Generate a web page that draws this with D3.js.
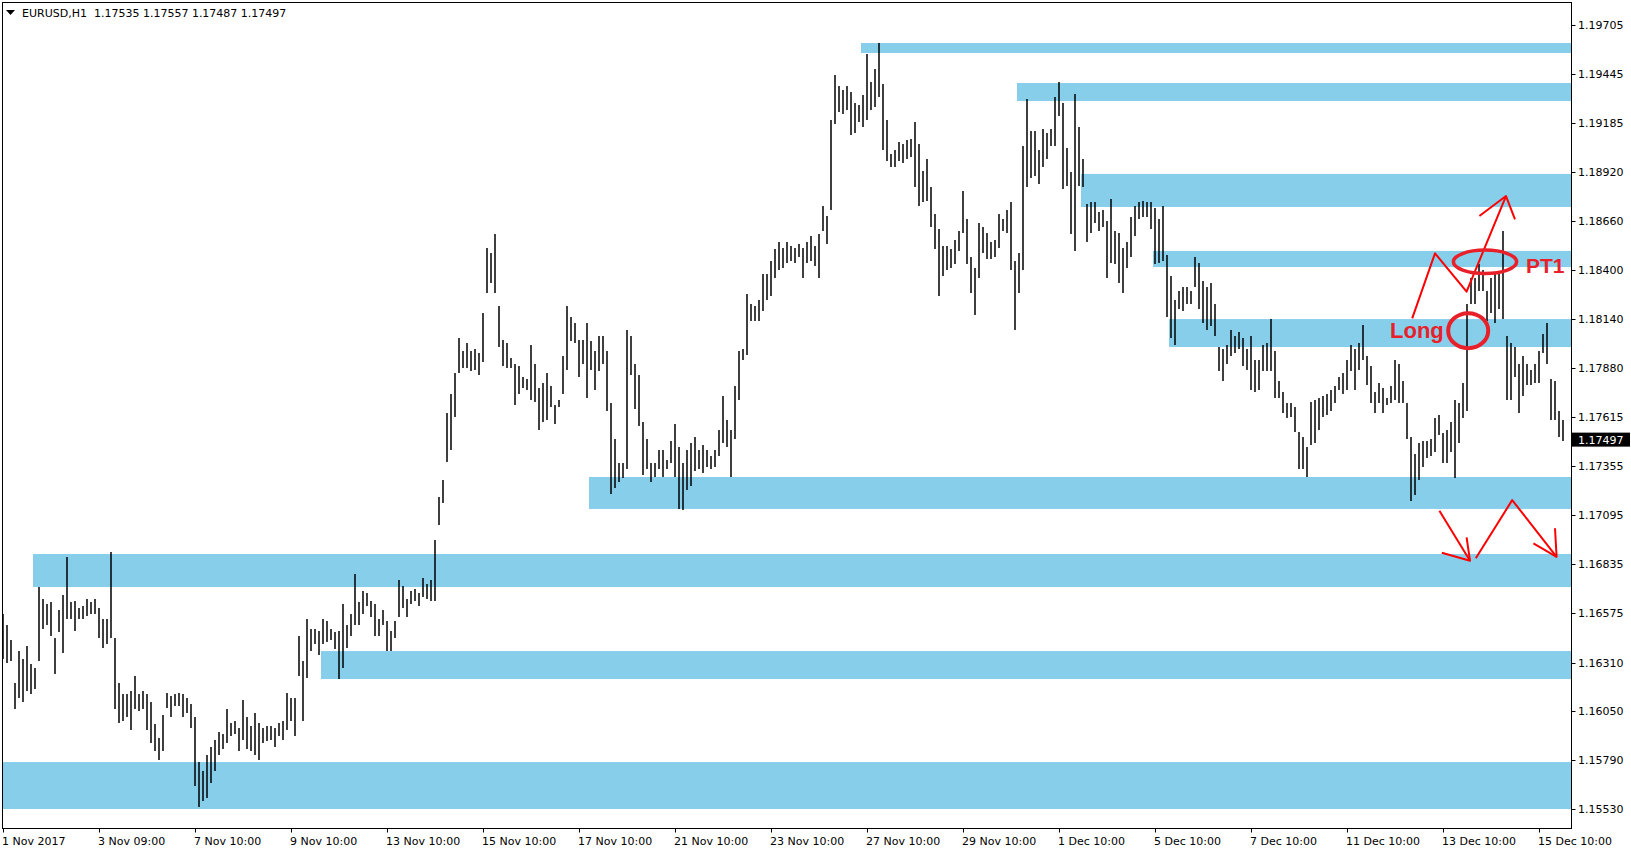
<!DOCTYPE html>
<html lang="en">
<head>
<meta charset="UTF-8">
<title>EURUSD,H1</title>
<script src="https://d3js.org/d3.v7.min.js"></script>
<style>
  body { margin: 0; background: #fff; }
  svg text { font-family: "DejaVu Sans", Verdana, sans-serif; }
  svg text.note { font-family: "Liberation Sans", Arial, sans-serif; font-weight: bold; }
</style>
</head>
<body>
<svg id="chart" width="1631" height="852"></svg>
<script>
// bar highs / lows (one bar per 2 hours, 1 Nov - 15 Dec 2017)
var highs = [
1.1657,1.1651,1.1643,1.1620,1.1637,1.1633,1.1640,1.1630,1.1628,1.1671,
1.1665,1.1662,1.1663,1.1644,1.1659,1.1667,1.1687,1.1663,1.1664,1.1660,
1.1661,1.1665,1.1663,1.1665,1.1660,1.1654,1.1654,1.1690,1.1644,1.1620,
1.1614,1.1614,1.1616,1.1624,1.1614,1.1616,1.1614,1.1610,1.1598,1.1591,
1.1603,1.1615,1.1613,1.1614,1.1615,1.1614,1.1612,1.1609,1.1602,1.1578,
1.1573,1.1582,1.1586,1.1590,1.1594,1.1593,1.1606,1.1599,1.1600,1.1596,
1.1611,1.1602,1.1597,1.1604,1.1599,1.1596,1.1597,1.1597,1.1596,1.1599,
1.1600,1.1615,1.1612,1.1612,1.1645,1.1632,1.1654,1.1649,1.1649,1.1648,
1.1654,1.1653,1.1649,1.1647,1.1648,1.1662,1.1651,1.1657,1.1678,1.1663,
1.1669,1.1668,1.1664,1.1662,1.1654,1.1659,1.1653,1.1648,1.1653,1.1675,
1.1672,1.1665,1.1669,1.1670,1.1668,1.1676,1.1673,1.1675,1.1696,1.1719,
1.1728,1.1764,1.1774,1.1785,1.1804,1.1797,1.1801,1.1797,1.1798,1.1796,
1.1817,1.1852,1.1849,1.1859,1.1821,1.1803,1.1801,1.1793,1.1790,1.1789,
1.1783,1.1782,1.1800,1.1790,1.1777,1.1780,1.1785,1.1778,1.1768,1.1771,
1.1794,1.1821,1.1815,1.1812,1.1803,1.1803,1.1812,1.1802,1.1797,1.1805,
1.1805,1.1797,1.1769,1.1750,1.1737,1.1737,1.1808,1.1805,1.1790,1.1784,
1.1759,1.1750,1.1737,1.1737,1.1744,1.1744,1.1739,1.1749,1.1758,1.1746,
1.1737,1.1744,1.1748,1.1751,1.1744,1.1747,1.1744,1.1741,1.1744,1.1755,
1.1773,1.1760,1.1755,1.1778,1.1797,1.1798,1.1827,1.1822,1.1821,1.1824,
1.1838,1.1838,1.1845,1.1851,1.1855,1.1852,1.1855,1.1853,1.1852,1.1854,
1.1852,1.1855,1.1858,1.1853,1.1859,1.1874,1.1869,1.1920,1.1944,1.1938,
1.1936,1.1938,1.1935,1.1929,1.1928,1.1933,1.1955,1.1940,1.1947,1.1961,
1.1939,1.1920,1.1902,1.1904,1.1908,1.1907,1.1909,1.1910,1.1919,1.1907,
1.1893,1.1899,1.1884,1.1870,1.1862,1.1853,1.1853,1.1851,1.1856,1.1861,
1.1882,1.1867,1.1847,1.1841,1.1865,1.1863,1.1860,1.1855,1.1856,1.1870,
1.1867,1.1872,1.1876,1.1845,1.1849,1.1906,1.1931,1.1914,1.1914,1.1904,
1.1915,1.1913,1.1915,1.1932,1.1940,1.1929,1.1905,1.1892,1.1934,1.1916,
1.1899,1.1875,1.1876,1.1876,1.1871,1.1872,1.1866,1.1878,1.1861,1.1860,
1.1852,1.1855,1.1868,1.1874,1.1876,1.1877,1.1876,1.1876,1.1873,1.1867,
1.1874,1.1848,1.1837,1.1824,1.1829,1.1831,1.1831,1.1829,1.1847,1.1844,
1.1834,1.1831,1.1833,1.1822,1.1799,1.1798,1.1800,1.1808,1.1805,1.1807,
1.1804,1.1798,1.1805,1.1792,1.1792,1.1800,1.1801,1.1814,1.1797,1.1781,
1.1775,1.1769,1.1769,1.1767,1.1754,1.1751,1.1746,1.1770,1.1771,1.1772,
1.1773,1.1774,1.1776,1.1778,1.1783,1.1785,1.1792,1.1800,1.1798,1.1801,
1.1811,1.1794,1.1789,1.1775,1.1780,1.1777,1.1772,1.1778,1.1792,1.1790,
1.1781,1.1769,1.1751,1.1742,1.1748,1.1749,1.1749,1.1750,1.1761,1.1763,
1.1753,1.1755,1.1759,1.1771,1.1769,1.1780,1.1822,1.1836,1.1836,1.1843,
1.1840,1.1829,1.1836,1.1838,1.1838,1.1861,1.1805,1.1801,1.1799,1.1790,
1.1794,1.1790,1.1787,1.1790,1.1797,1.1806,1.1812,1.1782,1.1781,1.1765,
1.1760
];
var lows = [
1.1633,1.1631,1.1632,1.1606,1.1612,1.1610,1.1616,1.1614,1.1617,1.1632,
1.1649,1.1651,1.1645,1.1625,1.1647,1.1636,1.1654,1.1654,1.1648,1.1654,
1.1654,1.1656,1.1657,1.1657,1.1644,1.1639,1.1641,1.1644,1.1606,1.1599,
1.1600,1.1602,1.1595,1.1606,1.1605,1.1606,1.1595,1.1588,1.1584,1.1579,
1.1584,1.1607,1.1602,1.1608,1.1608,1.1602,1.1604,1.1596,1.1565,1.1554,
1.1557,1.1559,1.1567,1.1573,1.1582,1.1585,1.1588,1.1592,1.1593,1.1584,
1.1590,1.1585,1.1584,1.1582,1.1579,1.1588,1.1589,1.1590,1.1586,1.1592,
1.1590,1.1595,1.1600,1.1592,1.1624,1.1600,1.1623,1.1637,1.1641,1.1635,
1.1641,1.1642,1.1643,1.1638,1.1622,1.1628,1.1639,1.1645,1.1651,1.1651,
1.1657,1.1661,1.1655,1.1645,1.1645,1.1651,1.1637,1.1637,1.1644,1.1655,
1.1660,1.1655,1.1662,1.1664,1.1661,1.1666,1.1665,1.1664,1.1664,1.1704,
1.1716,1.1738,1.1744,1.1762,1.1785,1.1788,1.1788,1.1786,1.1787,1.1784,
1.1791,1.1828,1.1833,1.1828,1.1799,1.1789,1.1788,1.1788,1.1768,1.1774,
1.1777,1.1776,1.1771,1.1770,1.1755,1.1759,1.1760,1.1767,1.1758,1.1767,
1.1774,1.1787,1.1802,1.1801,1.1783,1.1790,1.1772,1.1787,1.1776,1.1786,
1.1790,1.1765,1.1721,1.1724,1.1727,1.1729,1.1734,1.1784,1.1766,1.1757,
1.1731,1.1734,1.1727,1.1730,1.1734,1.1730,1.1734,1.1737,1.1730,1.1713,
1.1712,1.1723,1.1725,1.1733,1.1734,1.1732,1.1735,1.1734,1.1735,1.1741,
1.1748,1.1746,1.1730,1.1750,1.1771,1.1792,1.1795,1.1813,1.1813,1.1813,
1.1818,1.1824,1.1826,1.1836,1.1840,1.1841,1.1844,1.1845,1.1844,1.1847,
1.1836,1.1844,1.1845,1.1842,1.1836,1.1861,1.1854,1.1872,1.1918,1.1924,
1.1923,1.1925,1.1912,1.1913,1.1919,1.1916,1.1920,1.1925,1.1927,1.1932,
1.1904,1.1898,1.1895,1.1895,1.1898,1.1897,1.1899,1.1900,1.1884,1.1874,
1.1876,1.1877,1.1863,1.1851,1.1826,1.1837,1.1840,1.1841,1.1843,1.1850,
1.1860,1.1843,1.1828,1.1816,1.1836,1.1849,1.1846,1.1846,1.1847,1.1852,
1.1861,1.1860,1.1840,1.1808,1.1828,1.1840,1.1884,1.1889,1.1890,1.1886,
1.1895,1.1899,1.1906,1.1906,1.1922,1.1883,1.1885,1.1859,1.1850,1.1885,
1.1884,1.1855,1.1860,1.1865,1.1861,1.1863,1.1836,1.1844,1.1843,1.1833,
1.1828,1.1841,1.1847,1.1858,1.1867,1.1868,1.1868,1.1862,1.1843,1.1844,
1.1845,1.1815,1.1804,1.1800,1.1819,1.1818,1.1822,1.1822,1.1831,1.1819,
1.1812,1.1808,1.1810,1.1805,1.1786,1.1781,1.1790,1.1794,1.1796,1.1798,
1.1789,1.1787,1.1776,1.1775,1.1776,1.1786,1.1786,1.1786,1.1772,1.1772,
1.1764,1.1761,1.1762,1.1754,1.1734,1.1734,1.1730,1.1747,1.1748,1.1755,
1.1762,1.1763,1.1765,1.1769,1.1776,1.1774,1.1776,1.1786,1.1776,1.1787,
1.1792,1.1779,1.1769,1.1764,1.1769,1.1764,1.1768,1.1769,1.1771,1.1769,
1.1769,1.1750,1.1717,1.1720,1.1728,1.1735,1.1740,1.1741,1.1743,1.1752,
1.1737,1.1737,1.1743,1.1729,1.1748,1.1761,1.1765,1.1822,1.1822,1.1829,
1.1829,1.1813,1.1817,1.1812,1.1819,1.1814,1.1771,1.1771,1.1783,1.1764,
1.1773,1.1779,1.1779,1.1780,1.1780,1.1796,1.1790,1.1760,1.1760,1.1751,
1.1749
];

var header = "EURUSD,H1  1.17535 1.17557 1.17487 1.17497";
var lastPrice = 1.17497;

var yTicks = [1.19705,1.19445,1.19185,1.18920,1.18660,1.18400,1.18140,1.17880,
  1.17615,1.17355,1.17095,1.16835,1.16575,1.16310,1.16050,1.15790,1.15530];

var xTickBars = [0,24,48,72,96,120,144,168,192,216,240,264,288,312,336,360,384];
var xTickLabels = ["1 Nov 2017","3 Nov 09:00","7 Nov 10:00","9 Nov 10:00","13 Nov 10:00",
  "15 Nov 10:00","17 Nov 10:00","21 Nov 10:00","23 Nov 10:00","27 Nov 10:00",
  "29 Nov 10:00","1 Dec 10:00","5 Dec 10:00","7 Dec 10:00","11 Dec 10:00",
  "13 Dec 10:00","15 Dec 10:00"];

// support / resistance zones: first bar, upper and lower price
var zoneStart  = [215, 254, 270, 288, 292, 147, 8, 80, -1];
var zoneTop    = [1.19609,1.19396,1.18912,1.18502,1.18139,1.17298,1.16888,1.16371,1.15780];
var zoneBottom = [1.19556,1.19300,1.18736,1.18416,1.17990,1.17128,1.16712,1.16222,1.15530];

// hand drawn marks (bar, price)
var upPath    = [[352.3,1.18143],[358,1.18489],[365.9,1.18285],[375.75,1.18794]];
var upHead    = [[369.1,1.18688],[375.75,1.18794],[378,1.18670]];
var downPath1 = [[359.1,1.17118],[366.75,1.16852]];
var downHead1 = [[359.7,1.16895],[366.75,1.16852],[365.9,1.16977]];
var downPath2 = [[368.2,1.16865],[377.3,1.17175],[388.4,1.16873]];
var downHead2 = [[382.6,1.16945],[388.4,1.16873],[388,1.17025]];
var ellipses  = [ {bar: 370.5, price: 1.18444, bars: 7.9, pr: 0.000623},
                  {bar: 366.3, price: 1.18077, bars: 5.0, pr: 0.000932} ];
var notes     = [ {text: "Long", bar: 346.75, price: 1.18038, size: 22},
                  {text: "PT1",  bar: 380.75, price: 1.18384, size: 21} ];

(function () {
  var svg = d3.select("#chart");
  var W = 1631, H = 852;
  var pLeft = 2.5, pRight = 1571.5, pTop = 2.5, pBottom = 828.5;

  var x = d3.scaleLinear().domain([0, 390]).range([3, 1563]);
  var y = d3.scaleLinear().domain([1.15530, 1.19705]).range([809, 25]);

  svg.append("rect").attr("width", W).attr("height", H).attr("fill", "#fff");

  svg.append("clipPath").attr("id", "clip")
    .append("rect").attr("x", pLeft).attr("y", pTop)
    .attr("width", pRight - pLeft).attr("height", pBottom - pTop);
  var inner = svg.append("g").attr("clip-path", "url(#clip)");

  // zones
  function zx(i) { return Math.max(pLeft - 0.5, x(zoneStart[i]) - 2); }
  inner.selectAll(".zone").data(zoneTop).enter().append("rect")
    .attr("class", "zone")
    .attr("x", (d, i) => zx(i))
    .attr("y", d => y(d))
    .attr("width", (d, i) => pRight - zx(i))
    .attr("height", (d, i) => y(zoneBottom[i]) - y(d))
    .attr("fill", "#87ceeb");

  // bars
  inner.selectAll(".bar").data(highs).enter().append("rect")
    .attr("class", "bar")
    .attr("x", (d, i) => Math.round(x(i)) - 0.75)
    .attr("y", d => Math.round(y(d)))
    .attr("width", 1.5)
    .attr("height", (d, i) => Math.max(1, Math.round(y(lows[i])) - Math.round(y(d))))
    .attr("fill", "#000");

  // red drawings
  var line = d3.line().x(d => x(d[0])).y(d => y(d[1]));
  [upPath, upHead, downPath1, downHead1, downPath2, downHead2].forEach(function (pts) {
    inner.append("path").attr("d", line(pts))
      .attr("fill", "none").attr("stroke", "#ff0000")
      .attr("stroke-width", 2).attr("stroke-linejoin", "round");
  });
  ellipses.forEach(function (e, k) {
    inner.append("ellipse")
      .attr("cx", x(e.bar)).attr("cy", y(e.price))
      .attr("rx", x(e.bars) - x(0)).attr("ry", y(0) - y(e.pr))
      .attr("fill", "none").attr("stroke", "#e8202a")
      .attr("stroke-width", k == 0 ? 3.5 : 4);
  });
  notes.forEach(function (n) {
    inner.append("text").attr("class", "note")
      .attr("x", x(n.bar)).attr("y", y(n.price))
      .attr("font-size", n.size)
      .attr("fill", "#e8202a").text(n.text);
  });

  // frame
  svg.append("rect").attr("x", pLeft).attr("y", pTop)
    .attr("width", pRight - pLeft).attr("height", pBottom - pTop)
    .attr("fill", "none").attr("stroke", "#000").attr("stroke-width", 1);

  // right price axis
  var yAxis = svg.append("g");
  yAxis.selectAll("line").data(yTicks).enter().append("line")
    .attr("x1", pRight).attr("x2", pRight + 4)
    .attr("y1", d => Math.round(y(d)) + 0.5).attr("y2", d => Math.round(y(d)) + 0.5)
    .attr("stroke", "#000");
  yAxis.selectAll("text").data(yTicks).enter().append("text")
    .attr("x", 1578).attr("y", d => y(d) + 4)
    .attr("font-size", 11).attr("fill", "#000")
    .text(d => d.toFixed(5));

  // last price tag
  svg.append("rect").attr("x", 1572).attr("y", y(lastPrice) - 7)
    .attr("width", 58).attr("height", 14).attr("fill", "#000");
  svg.append("text").attr("x", 1578).attr("y", y(lastPrice) + 4)
    .attr("font-size", 11).attr("fill", "#fff").text(lastPrice.toFixed(5));

  // time axis
  var xAxis = svg.append("g");
  xAxis.selectAll("line").data(xTickBars).enter().append("line")
    .attr("x1", d => Math.round(x(d)) + 0.5).attr("x2", d => Math.round(x(d)) + 0.5)
    .attr("y1", pBottom).attr("y2", pBottom + 4)
    .attr("stroke", "#000");
  xAxis.selectAll("text").data(xTickBars).enter().append("text")
    .attr("x", d => x(d) - 1).attr("y", 845)
    .attr("font-size", 11).attr("fill", "#000")
    .text((d, i) => xTickLabels[i]);

  // header
  svg.append("path").attr("d", "M6,10 L15,10 L10.5,15 Z").attr("fill", "#000");
  svg.append("text").attr("x", 22).attr("y", 17)
    .attr("font-size", 11).attr("fill", "#000")
    .attr("xml:space", "preserve")
    .text(header);
})();
</script>
</body>
</html>
